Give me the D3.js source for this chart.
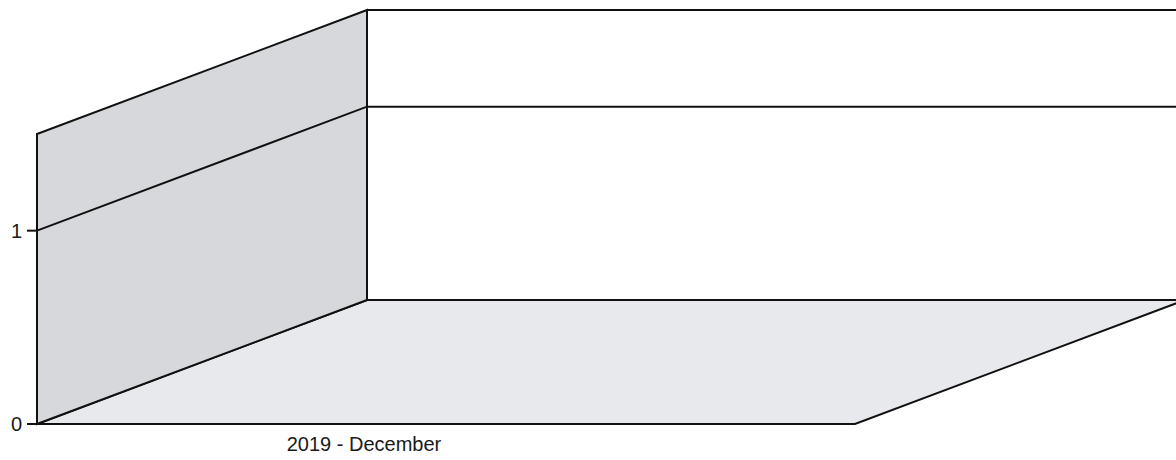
<!DOCTYPE html>
<html>
<head>
<meta charset="utf-8">
<script src="https://cdn.jsdelivr.net/npm/d3@7"></script>
<style>
   html, body { margin: 0; padding: 0; background: #fff; }
   svg { display: block; font-family: "Liberation Sans", Arial, sans-serif; }
</style>
</head>
<body>
<svg id="chart" width="1176" height="460"></svg>
<script>
// chart data
const categories = [ '2019 - December' ];
const seriesValues = [ 0 ];
const yTicks = [ 0, 1 ];
const yMax = 1.5;

const svg = d3.select( '#chart' );
const width = 1176;

// front plane and depth offset of the 3d box
const front = { left: 37, right: 855, bottom: 424, top: 134 };
const depth = { dx: 330, dy: -124 };

const y = d3.scaleLinear().domain( [ 0, yMax ] ).range( [ front.bottom, front.top ] );
const x = d3.scaleBand().domain( categories ).range( [ front.left, 691 ] );

const line = d3.line();
const stroke = '#111';
const strokeWidth = 2;

svg.append( 'defs' ).append( 'clipPath' ).attr( 'id', 'clip' )
   .append( 'rect' ).attr( 'width', width ).attr( 'height', 460 );

const g = svg.append( 'g' ).attr( 'clip-path', 'url(#clip)' );

// back wall
const backLeft = front.left + depth.dx;
const backRight = front.right + depth.dx;
g.append( 'path' )
   .attr( 'd', line( [
      [ backLeft, y( yMax ) + depth.dy ], [ backRight, y( yMax ) + depth.dy ],
      [ backRight, y( 0 ) + depth.dy ], [ backLeft, y( 0 ) + depth.dy ]
   ] ) + 'Z' )
   .attr( 'fill', '#fff' );

// floor
g.append( 'path' )
   .attr( 'd', line( [
      [ front.left, y( 0 ) ], [ backLeft, y( 0 ) + depth.dy ],
      [ backRight, y( 0 ) + depth.dy ], [ front.right, y( 0 ) ]
   ] ) + 'Z' )
   .attr( 'fill', '#e8e9ec' )
   .attr( 'stroke', stroke )
   .attr( 'stroke-width', strokeWidth );

// left wall
g.append( 'path' )
   .attr( 'd', line( [
      [ front.left, y( 0 ) ], [ front.left, y( yMax ) ],
      [ backLeft, y( yMax ) + depth.dy ], [ backLeft, y( 0 ) + depth.dy ]
   ] ) + 'Z' )
   .attr( 'fill', '#d6d8db' )
   .attr( 'stroke', stroke )
   .attr( 'stroke-width', strokeWidth );

// top edge of back wall
g.append( 'path' )
   .attr( 'd', line( [ [ backLeft, y( yMax ) + depth.dy ], [ backRight, y( yMax ) + depth.dy ] ] ) )
   .attr( 'stroke', stroke ).attr( 'stroke-width', strokeWidth ).attr( 'fill', 'none' );

// gridlines (skip the floor)
yTicks.filter( t => t > 0 ).forEach( t => {
   g.append( 'path' )
      .attr( 'd', line( [
         [ front.left, y( t ) ], [ backLeft, y( t ) + depth.dy ], [ backRight, y( t ) + depth.dy ]
      ] ) )
      .attr( 'stroke', stroke ).attr( 'stroke-width', strokeWidth ).attr( 'fill', 'none' );
} );

// y axis ticks and labels
const yAxis = svg.append( 'g' );
yTicks.forEach( t => {
   yAxis.append( 'line' )
      .attr( 'x1', front.left - 10 ).attr( 'x2', front.left )
      .attr( 'y1', y( t ) ).attr( 'y2', y( t ) )
      .attr( 'stroke', stroke ).attr( 'stroke-width', strokeWidth );
   yAxis.append( 'text' )
      .attr( 'x', front.left - 15 ).attr( 'y', y( t ) )
      .attr( 'dy', '0.36em' )
      .attr( 'text-anchor', 'end' )
      .attr( 'font-size', 20 )
      .attr( 'fill', '#1a1a1a' )
      .text( t );
} );

// category labels
svg.append( 'g' ).selectAll( 'text' )
   .data( categories )
   .join( 'text' )
   .attr( 'x', d => x( d ) + x.bandwidth() / 2 )
   .attr( 'y', front.bottom + 27 )
   .attr( 'text-anchor', 'middle' )
   .attr( 'font-size', 20 )
   .attr( 'fill', '#1a1a1a' )
   .text( d => d );

// series values are all zero, so no bars stand above the floor
g.selectAll( 'rect.bar' )
   .data( seriesValues.filter( v => v > 0 ) )
   .join( 'rect' )
   .attr( 'class', 'bar' );
</script>
</body>
</html>
